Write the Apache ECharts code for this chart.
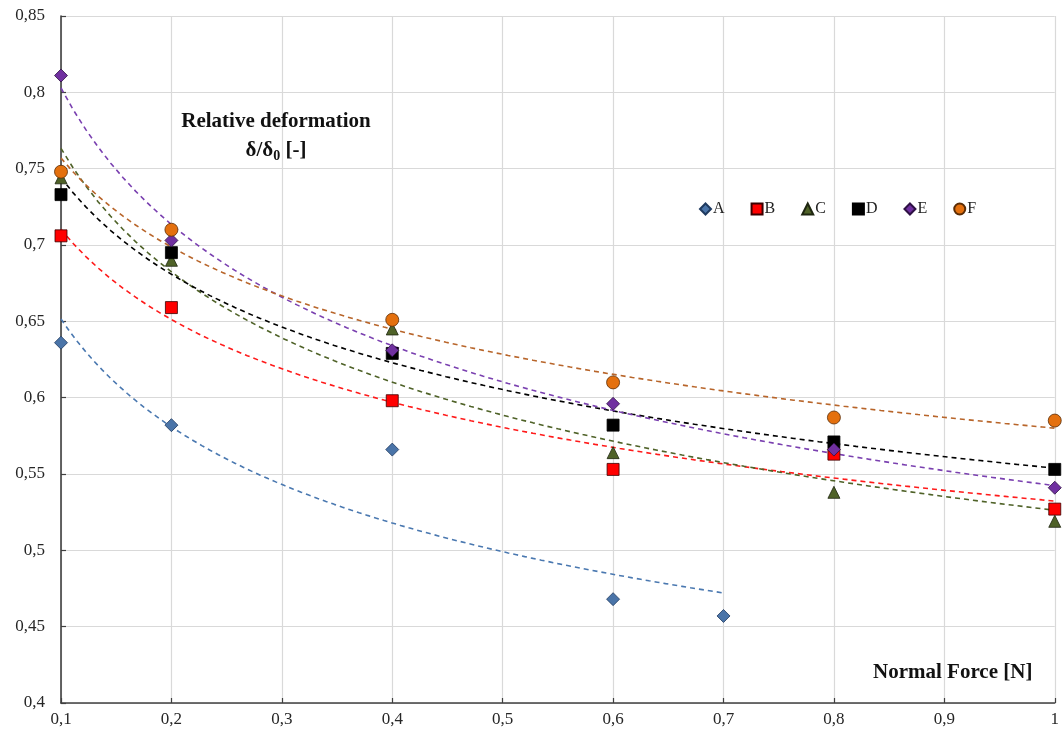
<!DOCTYPE html>
<html>
<head>
<meta charset="utf-8">
<script src="https://cdn.jsdelivr.net/npm/echarts@6/dist/echarts.min.js"></script>
<style>html,body{margin:0;padding:0;background:#fff}#c{width:1062px;height:735px}</style>
</head>
<body>
<div id="c"></div>
<script>
// ---- data ----
const seriesNames = ['A', 'B', 'C', 'D', 'E', 'F'];
const xA = [0.1, 0.2, 0.4, 0.6, 0.7];
const xAll = [0.1, 0.2, 0.4, 0.6, 0.8, 1.0];
const valA = [0.636, 0.582, 0.566, 0.468, 0.457];
const valB = [0.706, 0.659, 0.598, 0.553, 0.563, 0.527];
const valC = [0.744, 0.690, 0.645, 0.564, 0.538, 0.519];
const valD = [0.733, 0.695, 0.629, 0.582, 0.571, 0.553];
const valE = [0.811, 0.703, 0.631, 0.596, 0.566, 0.541];
const valF = [0.748, 0.710, 0.651, 0.610, 0.587, 0.585];
const yTicks = [0.4, 0.45, 0.5, 0.55, 0.6, 0.65, 0.7, 0.75, 0.8, 0.85];
const xTicks = [0.1, 0.2, 0.3, 0.4, 0.5, 0.6, 0.7, 0.8, 0.9, 1];

// ---- styles ----
const FONT = '"Liberation Serif", "Times New Roman", serif';
const styles = {
  A: {symbol: 'diamond', size: 13, color: '#4a74a8', border: '#1f3a5f', trend: '#4a78b0'},
  B: {symbol: 'rect', size: 12, color: '#ff0000', border: '#3a0000', trend: '#ff1a1a'},
  C: {symbol: 'triangle', size: 12, color: '#4f6228', border: '#1e2610', trend: '#4f6228'},
  D: {symbol: 'rect', size: 12, color: '#000000', border: '#000000', trend: '#000000'},
  E: {symbol: 'diamond', size: 13, color: '#7030a0', border: '#2e1044', trend: '#7a40b0'},
  F: {symbol: 'circle', size: 13, color: '#e4700e', border: '#5a2c05', trend: '#b8652a'}
};
const dataSets = {
  A: [xA, valA], B: [xAll, valB], C: [xAll, valC],
  D: [xAll, valD], E: [xAll, valE], F: [xAll, valF]
};

// power-law least squares fit (log-log), like a spreadsheet power trendline
function powerFit(xs, ys) {
  const n = xs.length;
  let sx = 0, sy = 0, sxx = 0, sxy = 0;
  for (let i = 0; i < n; i++) {
    const lx = Math.log(xs[i]), ly = Math.log(ys[i]);
    sx += lx; sy += ly; sxx += lx * lx; sxy += lx * ly;
  }
  const b = (n * sxy - sx * sy) / (n * sxx - sx * sx);
  const a = Math.exp((sy - b * sx) / n);
  return {a, b};
}
function trendPoints(xs, ys) {
  const {a, b} = powerFit(xs, ys);
  const x0 = Math.min(...xs), x1 = Math.max(...xs);
  const pts = [];
  const N = 80;
  for (let i = 0; i <= N; i++) {
    const x = x0 + (x1 - x0) * i / N;
    pts.push([x, a * Math.pow(x, b)]);
  }
  return pts;
}

function fmt(v) {
  let s = (Math.round(v * 100) / 100).toString();
  return s.replace('.', ',');
}

const series = [];
seriesNames.forEach(n => {
  const [xs, ys] = dataSets[n];
  series.push({
    name: n + ' trend', type: 'line', data: trendPoints(xs, ys),
    showSymbol: false, silent: true, z: 2,
    lineStyle: {color: styles[n].trend, width: 1.6, type: [5, 4]}
  });
});
seriesNames.forEach(n => {
  const [xs, ys] = dataSets[n];
  const st = styles[n];
  series.push({
    name: n, type: 'scatter', z: 5,
    symbol: st.symbol, symbolSize: st.size,
    data: xs.map((x, i) => [x, ys[i]]),
    itemStyle: {color: st.color, borderColor: st.border, borderWidth: 0.8, opacity: 1}
  });
});

const chart = echarts.init(document.getElementById('c'), null, {renderer: 'canvas'});
chart.setOption({
  animation: false,
  backgroundColor: '#ffffff',
  grid: {left: 61, right: 3, top: 16, bottom: 32, containLabel: false},
  legend: {
    data: seriesNames.map(n => ({name: n, icon: styles[n].symbol})),
    left: 694, top: 196, itemWidth: 11, itemHeight: 11, itemGap: 26,
    textStyle: {fontFamily: FONT, fontSize: 16, color: '#222', padding: [0, 0, 0, -3]}
  },
  xAxis: {
    type: 'value', min: 0.1, max: 1, interval: 0.1,
    axisLine: {show: true, lineStyle: {color: '#404040', width: 1.6}},
    axisTick: {show: true, inside: true, length: 5, lineStyle: {color: '#404040', width: 1.2}},
    axisLabel: {fontFamily: FONT, fontSize: 17, color: '#262626', margin: 8,
      formatter: v => fmt(v)},
    splitLine: {show: true, lineStyle: {color: '#d9d9d9', width: 1.2}}
  },
  yAxis: {
    type: 'value', min: 0.4, max: 0.85, interval: 0.05,
    axisLine: {show: true, lineStyle: {color: '#404040', width: 1.6}},
    axisTick: {show: true, inside: true, length: 5, lineStyle: {color: '#404040', width: 1.2}},
    axisLabel: {fontFamily: FONT, fontSize: 17, color: '#262626', margin: 16,
      formatter: v => fmt(v)},
    splitLine: {show: true, lineStyle: {color: '#d9d9d9', width: 1.2}}
  },
  graphic: [
    {type: 'text', x: 276, y: 111, z: 10,
      style: {text: 'Relative deformation', font: 'bold 21px ' + FONT, fill: '#111', align: 'center'}},
    {type: 'text', x: 276, y: 138, z: 10,
      style: {
        align: 'center',
        text: '{a|δ/δ}{s|0}{a| [-]}',
        rich: {
          a: {font: 'bold 21px ' + FONT, fill: '#111'},
          s: {font: 'bold 14px ' + FONT, fill: '#111', padding: [11, 0, 0, 0]}
        }
      }},
    {type: 'text', x: 873, y: 662, z: 10,
      style: {text: 'Normal Force [N]', font: 'bold 21px ' + FONT, fill: '#111'}}
  ],
  series: series
});
</script>
</body>
</html>
